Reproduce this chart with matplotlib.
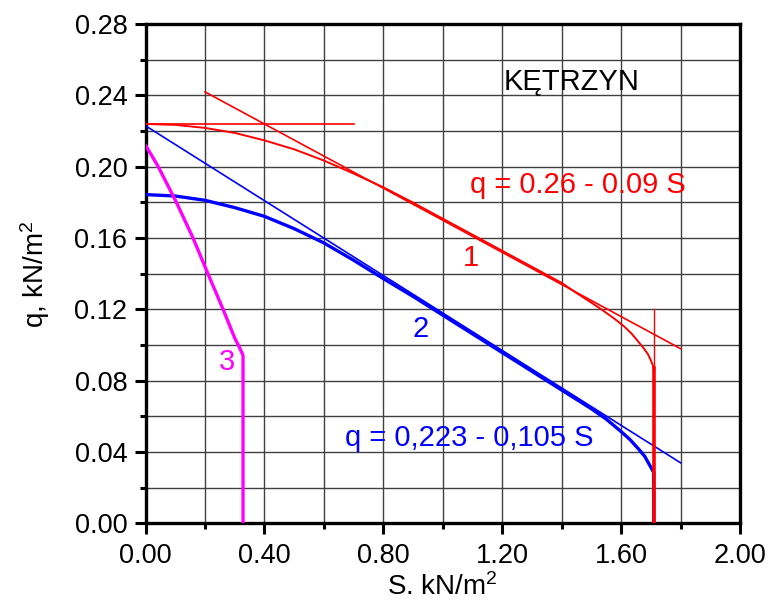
import numpy as np
import matplotlib.pyplot as plt

# curve 1 (red) and its asymptotes
s1 = [0.0, 0.1, 0.2, 0.3, 0.4, 0.5, 0.6, 0.7, 0.8, 0.9, 1.0, 1.1, 1.2, 1.3,
      1.4, 1.45, 1.5, 1.54, 1.58, 1.61, 1.635, 1.655, 1.675, 1.69, 1.70,
      1.707, 1.71]
q1 = [0.224, 0.2235, 0.2218, 0.219, 0.2148, 0.2098, 0.2035, 0.1962, 0.1885,
      0.1799, 0.1709, 0.1619, 0.1529, 0.1439, 0.1349, 0.1292, 0.1238, 0.1193,
      0.1145, 0.1105, 0.1065, 0.1025, 0.0985, 0.095, 0.0915, 0.0885, 0.087]
s1_end = 1.71
q1_top = 0.120
line1_s = [0.2, 1.8]
line1_a, line1_b = 0.26, 0.09
hline1_s = [0.0, 0.7]
hline1_q = 0.224

# curve 2 (blue) and its asymptote
s2 = [0.0, 0.1, 0.2, 0.3, 0.4, 0.5, 0.6, 0.7, 0.8, 0.9, 1.0, 1.1, 1.2, 1.3,
      1.4, 1.5, 1.55, 1.6, 1.63, 1.66, 1.68, 1.695, 1.705, 1.71]
q2 = [0.1844, 0.1836, 0.1812, 0.1771, 0.1722, 0.1653, 0.1573, 0.1476, 0.1373,
      0.1273, 0.1168, 0.1063, 0.0958, 0.0853, 0.0748, 0.0643, 0.0585, 0.0515,
      0.047, 0.0415, 0.0375, 0.033, 0.030, 0.0285]
line2_s = [0.0, 1.8]
line2_a, line2_b = 0.223, 0.105

# curve 3 (magenta)
s3 = [0.0, 0.02, 0.043, 0.104, 0.160, 0.210, 0.261, 0.300, 0.315, 0.322,
      0.326, 0.328, 0.328]
q3 = [0.212, 0.2065, 0.20, 0.18, 0.16, 0.14, 0.12, 0.104, 0.099, 0.0965,
      0.095, 0.0943, 0.0]

RED, BLUE, MAG = '#ff0000', '#0000ff', '#ff00ff'

plt.rcParams['font.family'] = ['Liberation Sans', 'DejaVu Sans']
plt.rcParams['mathtext.fontset'] = 'custom'
plt.rcParams['mathtext.rm'] = 'Liberation Sans'
plt.rcParams['mathtext.it'] = 'Liberation Sans'

fig = plt.figure(figsize=(7.7, 6.03), dpi=100)
ax = fig.add_axes([0.189, 0.132, 0.772, 0.828])

# asymptote lines (thin)
ls = np.array(line1_s)
ax.plot(ls, line1_a - line1_b * ls, color=RED, lw=1.2, zorder=3)
ax.plot(hline1_s, [hline1_q, hline1_q], color=RED, lw=1.2, zorder=3)
ls = np.array(line2_s)
ax.plot(ls, line2_a - line2_b * ls, color=BLUE, lw=1.2, zorder=3)

# curves
ax.plot(s2 + [s1_end], q2 + [0.0], color=BLUE, lw=2.4, zorder=4)
ax.plot(s1, q1, color=RED, lw=1.4, zorder=5)
ax.plot([s1_end, s1_end], [q1_top, q1[-1]], color=RED, lw=1.0, zorder=5)
ax.plot([s1_end, s1_end], [q1[-1], 0.0], color=RED, lw=2.6, zorder=5)
ax.plot(s3, q3, color=MAG, lw=2.4, zorder=4)

ax.set_xlim(0, 2.0)
ax.set_ylim(0, 0.28)
ax.set_xticks(np.arange(0, 2.01, 0.4))
ax.set_xticks(np.arange(0, 2.01, 0.2), minor=True)
ax.set_yticks(np.arange(0, 0.281, 0.04))
ax.set_yticks(np.arange(0, 0.281, 0.02), minor=True)
ax.xaxis.set_major_formatter(plt.FormatStrFormatter('%.2f'))
ax.yaxis.set_major_formatter(plt.FormatStrFormatter('%.2f'))
ax.grid(True, which='both', color='0.25', lw=1.0, zorder=0)
ax.set_axisbelow(True)

for sp in ax.spines.values():
    sp.set_linewidth(2.4)
ax.tick_params(which='major', direction='out', length=8, width=2.2,
               labelsize=19.5)
ax.tick_params(which='minor', direction='out', length=4, width=2.2)
ax.tick_params(axis='x', which='major', pad=6)
ax.tick_params(axis='y', which='major', pad=5)

ax.set_xlabel('S. kN/m$^2$', fontsize=20, labelpad=3)
ax.set_ylabel('q, kN/m$^2$', fontsize=20, labelpad=16)

ax.text(1.432, 0.2473, 'KĘTRZYN', fontsize=21, ha='center', va='center')
ax.text(1.454, 0.1896, 'q = 0.26 - 0.09 S', color=RED, fontsize=21,
        ha='center', va='center')
ax.text(1.095, 0.149, '1', color=RED, fontsize=21, ha='center', va='center')
ax.text(0.925, 0.109, '2', color=BLUE, fontsize=21, ha='center', va='center')
ax.text(0.273, 0.0904, '3', color=MAG, fontsize=21, ha='center', va='center')
ax.text(1.09, 0.0479, 'q = 0,223 - 0,105 S', color=BLUE, fontsize=21,
        ha='center', va='center')

fig.savefig('out.png', dpi=100)
